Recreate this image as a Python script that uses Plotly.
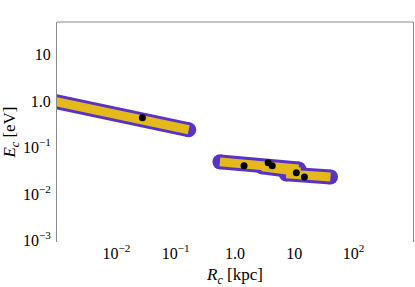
import plotly.graph_objects as go

# band end points (R_c in kpc, E_c in eV)
band1_x = [10**-3.1, 0.166]
band1_y = [1.02, 0.242]
bandA_x = [0.557, 11.8]
bandA_y = [0.0493, 0.0348]
bandB_x = [2.87, 12.6]
bandB_y = [0.0385, 0.030]
bandC_x = [7.3, 40.7]
bandC_y = [0.0272, 0.0234]

points_x = [0.0275, 1.42, 3.62, 4.24, 10.8, 14.8]
points_y = [0.44, 0.0405, 0.047, 0.0405, 0.0286, 0.0234]

xtick_vals = [0.01, 0.1, 1, 10, 100]
xtick_text = ["10<sup>−2</sup>", "10<sup>−1</sup>", "1.0", "10", "10<sup>2</sup>"]
ytick_vals = [0.001, 0.01, 0.1, 1, 10]
ytick_text = ["10<sup>−3</sup>", "10<sup>−2</sup>", "10<sup>−1</sup>", "1.0", "10"]

PURPLE = "#5833c6"
YELLOW = "#e4b91c"

fig = go.Figure()
bands = [(band1_x, band1_y), (bandA_x, bandA_y), (bandB_x, bandB_y), (bandC_x, bandC_y)]
for bx, by in bands:
    fig.add_trace(go.Scatter(x=bx, y=by, mode="lines+markers",
                             line=dict(color=PURPLE, width=15),
                             marker=dict(color=PURPLE, size=15, line=dict(width=0)),
                             hoverinfo="skip"))
for bx, by in bands:
    fig.add_trace(go.Scatter(x=bx, y=by, mode="lines",
                             line=dict(color=YELLOW, width=9),
                             hoverinfo="skip"))
fig.add_trace(go.Scatter(x=points_x, y=points_y, mode="markers",
                         marker=dict(color="black", size=7, line=dict(width=0))))

SERIF = "Liberation Serif"
tickfont = dict(family=SERIF, size=16, color="black")
titlefont = dict(family=SERIF, size=17, color="black")
fig.update_layout(
    width=415, height=287,
    margin=dict(l=57, r=2, t=22, b=45, autoexpand=False),
    paper_bgcolor="white", plot_bgcolor="white",
    showlegend=False,
    font=dict(family=SERIF, size=16, color="black"),
    xaxis=dict(type="log", range=[-3.0, 3.0], tickvals=xtick_vals, ticktext=xtick_text,
               tickfont=tickfont,
               showgrid=False, zeroline=False, showline=False, automargin=False,
               ticks="", ticklabelstandoff=0,
               title=dict(text="<i>R</i><sub><i>c</i></sub> [kpc]", font=titlefont)),
    yaxis=dict(type="log", range=[-3.03, 1.70], tickvals=ytick_vals, ticktext=ytick_text,
               tickfont=tickfont,
               showgrid=False, zeroline=False, showline=True, linecolor="#8a8a8a",
               linewidth=1, mirror=True, ticks="", ticklabelstandoff=2, automargin=False,
               title=dict(text="<i>E</i><sub><i>c</i></sub> [eV]", font=titlefont)),
    shapes=[dict(type="line", xref="paper", yref="paper", x0=0, x1=1, y0=1, y1=1,
                 line=dict(color="#8a8a8a", width=1))],
)

fig.write_html("out.html", config={"displayModeBar": False},
               post_script="document.body.style.margin='0';document.body.style.overflow='hidden';")
